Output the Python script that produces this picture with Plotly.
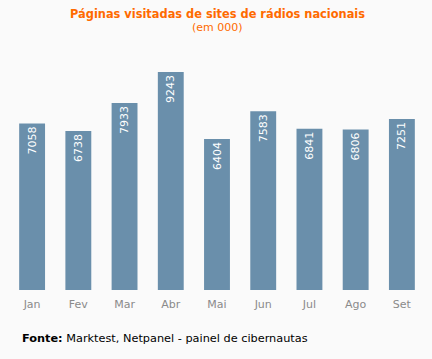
import plotly.graph_objects as go

months = ["Jan", "Fev", "Mar", "Abr", "Mai", "Jun", "Jul", "Ago", "Set"]
values = [7058, 6738, 7933, 9243, 6404, 7583, 6841, 6806, 7251]

BG = "#fafafa"
BAR = "#6a8fab"
FONT = "DejaVu Sans"

fig = go.Figure(go.Bar(
    x=months, y=values,
    marker=dict(color=BAR, line=dict(width=0)),
    text=[str(v) for v in values],
    textposition="inside",
    insidetextanchor="end",
    textangle=-90,
    textfont=dict(family=FONT, size=11, color="white"),
    hoverinfo="skip",
))

W, H = 432, 359
ml, mr, mt, mb = 9, 7, 60, 69
ph = H - mt - mb

def py(pix):
    return (H - mb - pix) / ph

def px(pix):
    return (pix - ml) / (W - ml - mr)

fig.update_layout(
    width=W, height=H,
    margin=dict(l=ml, r=mr, t=mt, b=mb, pad=0),
    paper_bgcolor=BG, plot_bgcolor=BG,
    bargap=0.44,
    showlegend=False,
    xaxis=dict(showgrid=False, zeroline=False, showline=False, ticks="",
               tickfont=dict(family=FONT, size=11, color="#8a8a8a"),
               ticklabelstandoff=6, fixedrange=True),
    yaxis=dict(range=[0, 9752], visible=False, showgrid=False, zeroline=False,
               fixedrange=True),
    annotations=[
        dict(text="<b>Páginas visitadas de sites de rádios nacionais</b>",
             xref="paper", yref="paper", x=px(217.5), y=py(14),
             xanchor="center", yanchor="middle", showarrow=False,
             font=dict(family=FONT, size=11.4, color="#ff6a00")),
        dict(text="(em 000)",
             xref="paper", yref="paper", x=px(217.5), y=py(28),
             xanchor="center", yanchor="middle", showarrow=False,
             font=dict(family=FONT, size=11, color="#ff6a00")),
        dict(text="<b>Fonte:</b> Marktest, Netpanel - painel de cibernautas",
             xref="paper", yref="paper", x=px(20), y=py(338),
             xanchor="left", yanchor="middle", showarrow=False,
             font=dict(family=FONT, size=11.3, color="#000000")),
    ],
)

fig.write_html(
    "out.html",
    config={"displayModeBar": False},
    post_script="document.body.style.margin='0';document.body.style.padding='0';document.body.style.background='#fafafa';",
)
